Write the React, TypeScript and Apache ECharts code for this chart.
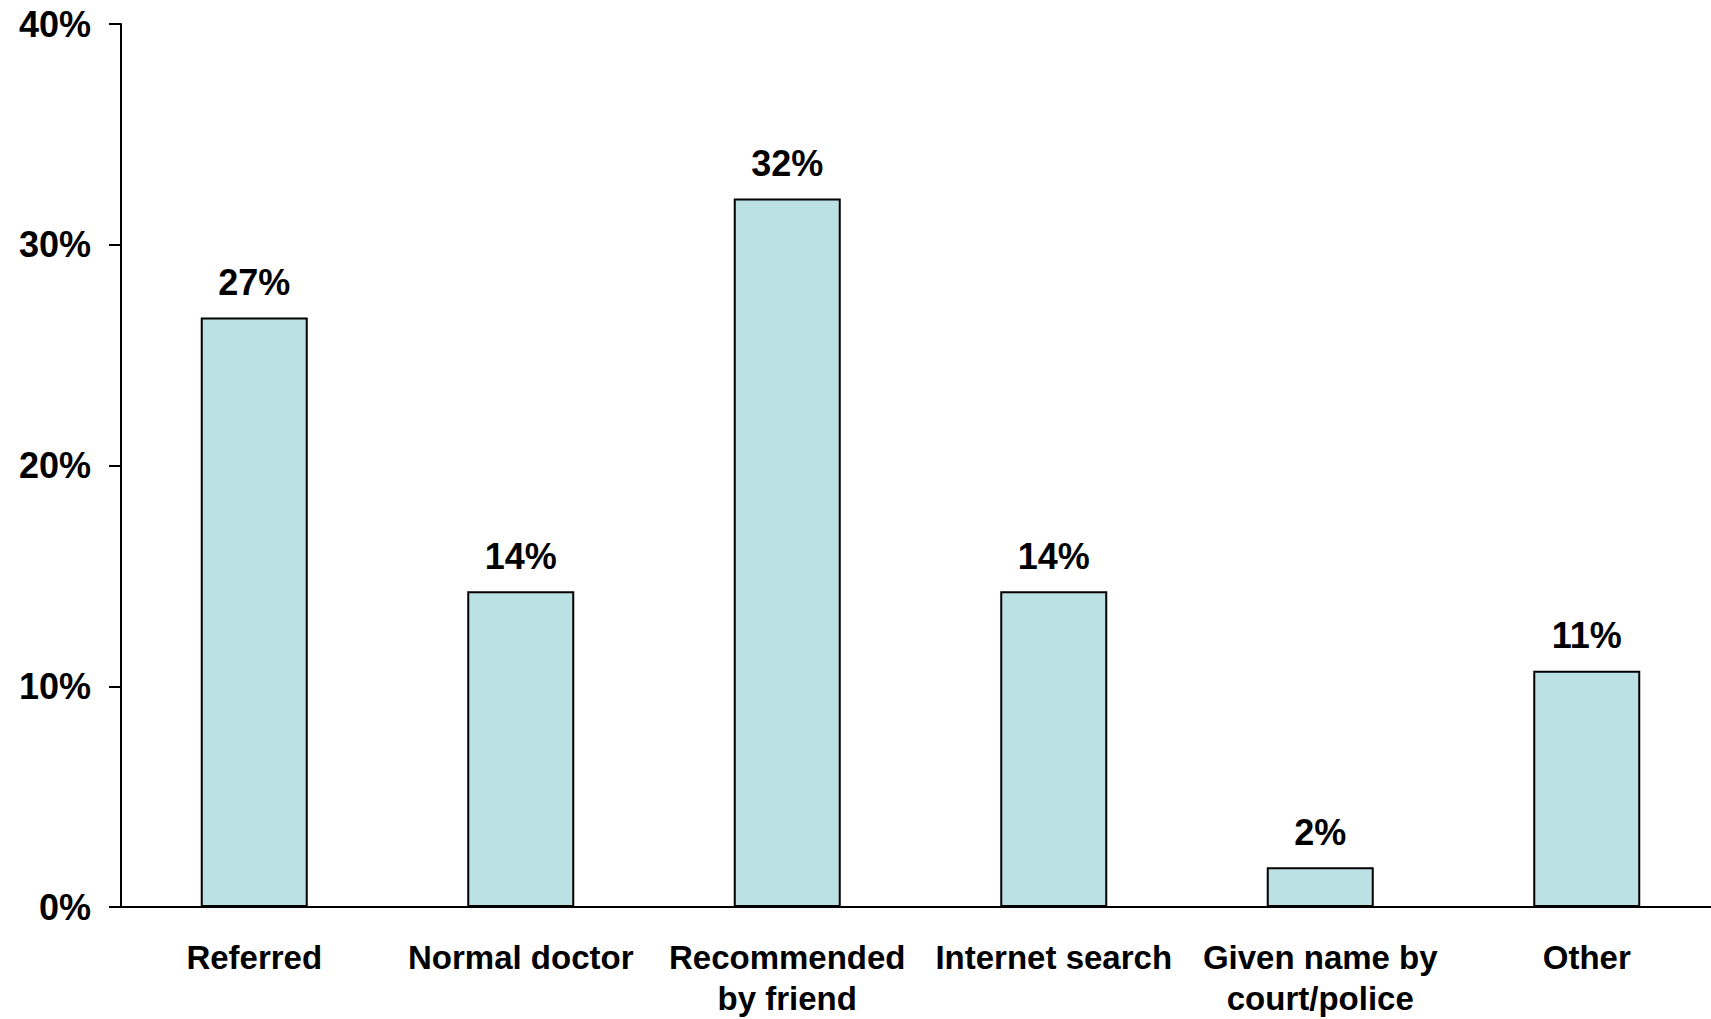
import React, { useEffect, useRef } from "react";
import * as echarts from "echarts";

const categories = [
  "Referred",
  "Normal doctor",
  "Recommended\nby friend",
  "Internet search",
  "Given name by\ncourt/police",
  "Other",
];
const values = [26.7, 14.3, 32.1, 14.3, 1.8, 10.7];
const valueLabels = ["27%", "14%", "32%", "14%", "2%", "11%"];

export default function App() {
  const ref = useRef<HTMLDivElement>(null);
  useEffect(() => {
    if (!ref.current) return;
    const chart = echarts.init(ref.current, undefined, { renderer: "svg" });
    const font = "'Liberation Sans', Arial, sans-serif";
    chart.setOption({
      animation: false,
      grid: { left: 121, right: 0, top: 24, bottom: 110, containLabel: false },
      xAxis: {
        type: "category",
        data: categories,
        axisLine: { lineStyle: { color: "#000", width: 2 } },
        axisTick: { show: false },
        axisLabel: {
          color: "#000",
          fontFamily: font,
          fontWeight: "bold",
          fontSize: 33,
          lineHeight: 41,
          margin: 30,
          interval: 0,
        },
      },
      yAxis: {
        type: "value",
        min: 0,
        max: 40,
        interval: 10,
        splitLine: { show: false },
        axisLine: { show: true, lineStyle: { color: "#000", width: 2 } },
        axisTick: { show: true, length: 12, lineStyle: { color: "#000", width: 2 } },
        axisLabel: {
          color: "#000",
          fontFamily: font,
          fontWeight: "bold",
          fontSize: 36,
          margin: 30,
          formatter: (v: number) => `${v}%`,
        },
      },
      series: [
        {
          type: "bar",
          data: values,
          barWidth: 107,
          itemStyle: { color: "#BBE1E4", borderColor: "#000", borderWidth: 2 },
          label: {
            show: true,
            position: "top",
            distance: 17,
            color: "#000",
            fontFamily: font,
            fontWeight: "bold",
            fontSize: 36,
            formatter: (p: any) => valueLabels[p.dataIndex],
          },
        },
      ],
    });
    return () => chart.dispose();
  }, []);
  return (
    <div
      style={{
        position: "fixed",
        left: 0,
        top: 0,
        width: 1711,
        height: 1019,
        overflow: "hidden",
        background: "#fff",
      }}
    >
      <div ref={ref} style={{ width: 1720, height: 1019 }} />
    </div>
  );
}
